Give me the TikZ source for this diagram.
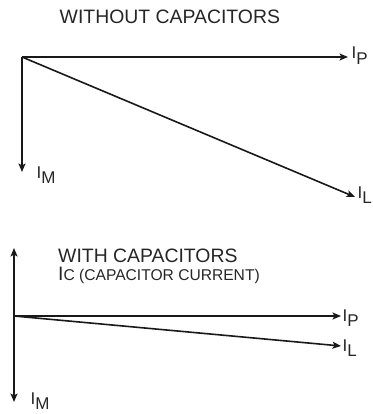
\documentclass[tikz,border=0pt]{standalone}
\usepackage{fontspec}
\setmainfont{Liberation Sans}
\usetikzlibrary{arrows.meta}
\begin{document}
\begin{tikzpicture}[x=1pt,y=-1pt,
  vec/.style={line width=1.6pt,draw=black!90,-{Stealth[length=8.5pt,width=7pt,inset=2pt]}},
  title/.style={anchor=base west,inner sep=0pt,text=black!85,font=\fontsize{19.4}{19.4}\selectfont},
  sub/.style={anchor=base west,inner sep=0pt,text=black!85,font=\fontsize{15.6}{15.6}\selectfont},
  lbl/.style={anchor=base west,inner sep=0pt,text=black!85,font=\fontsize{17}{17}\selectfont}]
\useasboundingbox (0,0) rectangle (372,414);
% top diagram
\node[title] (t1) at (59.5,24) {WITHOUT CAPACITORS};
\coordinate (o1) at (22,57);
\coordinate (p1) at (348,57);
\coordinate (m1) at (22,172);
\coordinate (l1) at (355,197);
\draw[vec] (o1) -- (p1);
\draw[vec] (o1) -- (m1);
\draw[vec] (o1) -- (l1);
\node[lbl] (ip1) at (351.5,59) {I\raisebox{-5.5pt}{P}};
\node[lbl] (im1) at (36.5,178) {I\raisebox{-5.5pt}{M}};
\node[lbl] (il1) at (357.5,198) {I\raisebox{-5.5pt}{L}};
% bottom diagram
\node[title] (t2) at (58,262) {WITH CAPACITORS};
\node[sub] (t3) at (58,280) {{\fontsize{19.4}{19.4}\selectfont I}C (CAPACITOR CURRENT)};
\coordinate (o2) at (14,316);
\coordinate (c2) at (14,248);
\coordinate (m2) at (14,402);
\coordinate (p2) at (341,316);
\coordinate (l2) at (341,346);
\draw[vec] (o2) -- (c2);
\draw[vec] (o2) -- (m2);
\draw[vec] (o2) -- (p2);
\draw[vec] (o2) -- (l2);
\node[lbl] (ip2) at (342.5,321) {I\raisebox{-5.5pt}{P}};
\node[lbl] (il2) at (342.5,351) {I\raisebox{-5.5pt}{L}};
\node[lbl] (im2) at (30.5,404) {I\raisebox{-5.5pt}{M}};
\end{tikzpicture}
\end{document}
